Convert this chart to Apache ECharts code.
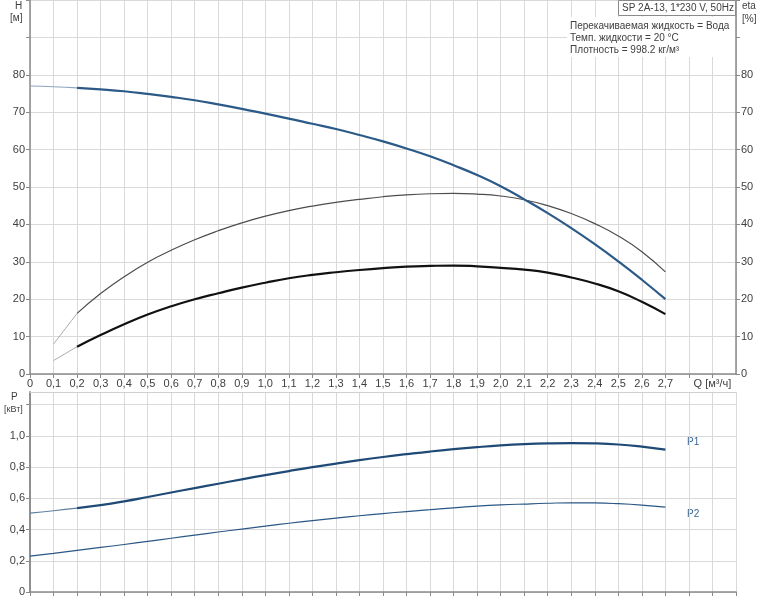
<!DOCTYPE html>
<html><head><meta charset="utf-8">
<script src="https://cdn.jsdelivr.net/npm/echarts@6/dist/echarts.min.js"></script>
<style>html,body{margin:0;padding:0;background:#fff}#c{width:760px;height:600px}</style>
</head><body><div id="c"></div>
<script>
// Flow rate Q [м³/ч]
const qH = [0,0.1,0.2,0.3,0.4,0.5,0.6,0.7,0.8,0.9,1.0,1.1,1.2,1.3,1.4,1.5,1.6,1.7,1.8,1.9,2.0,2.1,2.2,2.3,2.4,2.5,2.6,2.7];
// Head H [м]
const headH = [77.0,76.8,76.5,76.1,75.6,74.9,74.1,73.2,72.1,70.9,69.6,68.3,66.9,65.5,63.9,62.2,60.3,58.2,55.8,53.2,50.2,46.7,43.0,39.0,34.7,30.1,25.2,20.0];
// Efficiency curves (start at Q = 0.1)
const qEta = [0.1,0.2,0.3,0.4,0.5,0.6,0.7,0.8,0.9,1.0,1.1,1.2,1.3,1.4,1.5,1.6,1.7,1.8,1.9,2.0,2.1,2.2,2.3,2.4,2.5,2.6,2.7];
const etaPump = [8.0,16.2,21.5,26.0,29.9,33.1,35.9,38.3,40.4,42.2,43.7,44.9,45.9,46.7,47.4,47.9,48.2,48.3,48.1,47.6,46.6,45.0,42.9,40.2,36.9,32.7,27.3];
const etaTotal = [3.6,7.3,10.4,13.3,15.9,18.1,20.0,21.6,23.1,24.4,25.6,26.5,27.2,27.8,28.3,28.7,28.9,29.0,28.8,28.4,27.9,27.1,25.8,24.2,22.1,19.3,16.0];
// Power [кВт]
const p1 = [0.505,0.520,0.537,0.556,0.580,0.608,0.637,0.665,0.693,0.721,0.748,0.774,0.799,0.822,0.844,0.864,0.882,0.899,0.914,0.927,0.938,0.946,0.951,0.953,0.951,0.944,0.930,0.911];
const p2 = [0.229,0.247,0.266,0.285,0.304,0.324,0.344,0.364,0.384,0.403,0.422,0.440,0.457,0.473,0.488,0.502,0.515,0.527,0.539,0.549,0.557,0.563,0.568,0.571,0.570,0.565,0.556,0.543];
// Tick labels
const hTicksShown = [0,10,20,30,40,50,60,70,80];
const pTicksShown = [0,0.2,0.4,0.6,0.8,1.0];
const qLastLabel = 2.7;
const qUnitAt = 2.9;

const pairs = (xs, ys) => xs.map((x, i) => [x, ys[i]]);
const FONT = '"Liberation Sans", Arial, sans-serif';
const gridColor = '#d9d9d9';
const axisColor = '#8a8a8a';
const txt = '#404040';

function fmtComma(v){ return v === 0 ? '0' : v.toFixed(1).replace('.', ','); }

const chart = echarts.init(document.getElementById('c'), null, {renderer:'canvas'});

function line(name, data, xi, yi, color, width, z){
  return {name, type:'line', data, xAxisIndex:xi, yAxisIndex:yi, showSymbol:false, smooth:0.5,
    lineStyle:{color, width}, itemStyle:{color}, z: z||2, silent:true, animation:false};
}

const yCommon = {
  min:0, axisLine:{show:true, lineStyle:{color:axisColor, width:1.5}},
  axisTick:{show:true, length:4, lineStyle:{color:axisColor}},
  axisLabel:{color:txt, fontSize:11, fontFamily:FONT, margin:5},
};

const option = {
  backgroundColor:'#fff',
  animation:false,
  textStyle:{fontFamily:FONT},
  grid:[
    {left:30, right:24, top:0, height:374, containLabel:false},
    {left:30, right:24, top:392, height:200, containLabel:false}
  ],
  xAxis:[
    {type:'value', gridIndex:0, min:0, max:3.0, interval:0.1,
     axisLine:{show:true, onZero:false, lineStyle:{color:axisColor, width:1.5}},
     axisTick:{show:true, length:4, lineStyle:{color:axisColor}},
     axisLabel:{color:txt, fontSize:11, fontFamily:FONT, margin:4, showMaxLabel:false,
       formatter:v=>{ const r=Math.round(v*10)/10; if (r<=qLastLabel+1e-9) return fmtComma(r); if (Math.abs(r-qUnitAt)<1e-6) return 'Q [м³/ч]'; return ''; }},
     splitLine:{show:true, lineStyle:{color:gridColor, width:1}}},
    {type:'value', gridIndex:1, min:0, max:3.0, interval:0.1,
     axisLine:{show:true, onZero:false, lineStyle:{color:axisColor, width:1.5}},
     axisTick:{show:true, length:4, lineStyle:{color:axisColor}},
     axisLabel:{show:false},
     splitLine:{show:true, lineStyle:{color:gridColor, width:1}}},
    {type:'value', gridIndex:1, position:'top', min:0, max:3.0, interval:0.1,
     axisLine:{show:true, onZero:false, lineStyle:{color:'#cfcfcf', width:1}},
     axisTick:{show:false}, axisLabel:{show:false}, splitLine:{show:false}}
  ],
  yAxis:[
    Object.assign({}, yCommon, {type:'value', gridIndex:0, position:'left', max:100, interval:10,
      axisLabel:Object.assign({}, yCommon.axisLabel, {formatter:v=>hTicksShown.includes(v)?String(v):''}),
      splitLine:{show:true, lineStyle:{color:gridColor, width:1}}}),
    Object.assign({}, yCommon, {type:'value', gridIndex:0, position:'right', max:100, interval:10,
      axisLabel:Object.assign({}, yCommon.axisLabel, {formatter:v=>hTicksShown.includes(v)?String(v):''}),
      splitLine:{show:false}}),
    Object.assign({}, yCommon, {type:'value', gridIndex:1, position:'left', max:1.28, interval:0.2,
      axisLabel:Object.assign({}, yCommon.axisLabel, {showMaxLabel:false,
        formatter:v=>{ const r=Math.round(v*10)/10; return pTicksShown.some(t=>Math.abs(t-r)<1e-6)&&v<=1.0001 ? fmtComma(r) : ''; }}),
      splitLine:{show:true, lineStyle:{color:gridColor, width:1}}}),
    Object.assign({}, yCommon, {type:'value', gridIndex:1, position:'right', max:1.28, interval:0.2,
      axisTick:{show:false}, axisLabel:{show:false}, splitLine:{show:false}})
  ],
  series:[
    line('H-start', pairs(qH.slice(0,3), headH.slice(0,3)), 0, 0, '#8aa4bf', 1.2, 3),
    line('H', pairs(qH.slice(2), headH.slice(2)), 0, 0, '#2b5a88', 2.2, 4),
    line('eta-start', pairs(qEta.slice(0,2), etaPump.slice(0,2)), 0, 1, '#a8a8a8', 1, 3),
    line('eta', pairs(qEta.slice(1), etaPump.slice(1)), 0, 1, '#4d4d4d', 1.2, 3),
    line('eta-total-start', pairs(qEta.slice(0,2), etaTotal.slice(0,2)), 0, 1, '#a8a8a8', 1, 3),
    line('eta-total', pairs(qEta.slice(1), etaTotal.slice(1)), 0, 1, '#111111', 2.2, 3),
    line('P1-start', pairs(qH.slice(0,3), p1.slice(0,3)), 1, 2, '#5f7f9f', 1.2, 3),
    line('P1', pairs(qH.slice(2), p1.slice(2)), 1, 2, '#1f4a76', 2.2, 4),
    line('P2', pairs(qH, p2), 1, 2, '#2a5785', 1.2, 3)
  ],
  graphic:[
    {type:'text', x:15, y:1, style:{text:'H', fontSize:10, fontFamily:FONT, fill:txt}},
    {type:'text', x:10, y:13, style:{text:'[м]', fontSize:10, fontFamily:FONT, fill:txt}},
    {type:'text', x:742, y:1, style:{text:'eta', fontSize:10, fontFamily:FONT, fill:txt}},
    {type:'text', x:742, y:14, style:{text:'[%]', fontSize:10, fontFamily:FONT, fill:txt}},
    {type:'rect', shape:{x:567, y:17, width:168, height:40}, style:{fill:'#fff'}, z:10},
    {type:'rect', shape:{x:618.5, y:0.5, width:117, height:15}, style:{fill:'#fff', stroke:'#8a8a8a', lineWidth:1}, z:10},
    {type:'text', x:622, y:3, style:{text:'SP 2A-13, 1*230 V, 50Hz', fontSize:10, fontFamily:FONT, fill:txt}, z:11},
    {type:'text', x:570, y:21, style:{text:'Перекачиваемая жидкость = Вода', fontSize:10, fontFamily:FONT, fill:txt}, z:11},
    {type:'text', x:570, y:33, style:{text:'Темп. жидкости = 20 °C', fontSize:10, fontFamily:FONT, fill:txt}, z:11},
    {type:'text', x:570, y:45, style:{text:'Плотность = 998.2 кг/м³', fontSize:10, fontFamily:FONT, fill:txt}, z:11},
    {type:'text', x:11, y:392, style:{text:'P', fontSize:10, fontFamily:FONT, fill:txt}},
    {type:'text', x:4, y:405, style:{text:'[кВт]', fontSize:9, fontFamily:FONT, fill:txt}},
    {type:'text', x:687, y:437, style:{text:'P1', fontSize:10, fontFamily:FONT, fill:'#3a6690'}},
    {type:'text', x:687, y:509, style:{text:'P2', fontSize:10, fontFamily:FONT, fill:'#3a6690'}}
  ]
};
chart.setOption(option);
</script></body></html>
